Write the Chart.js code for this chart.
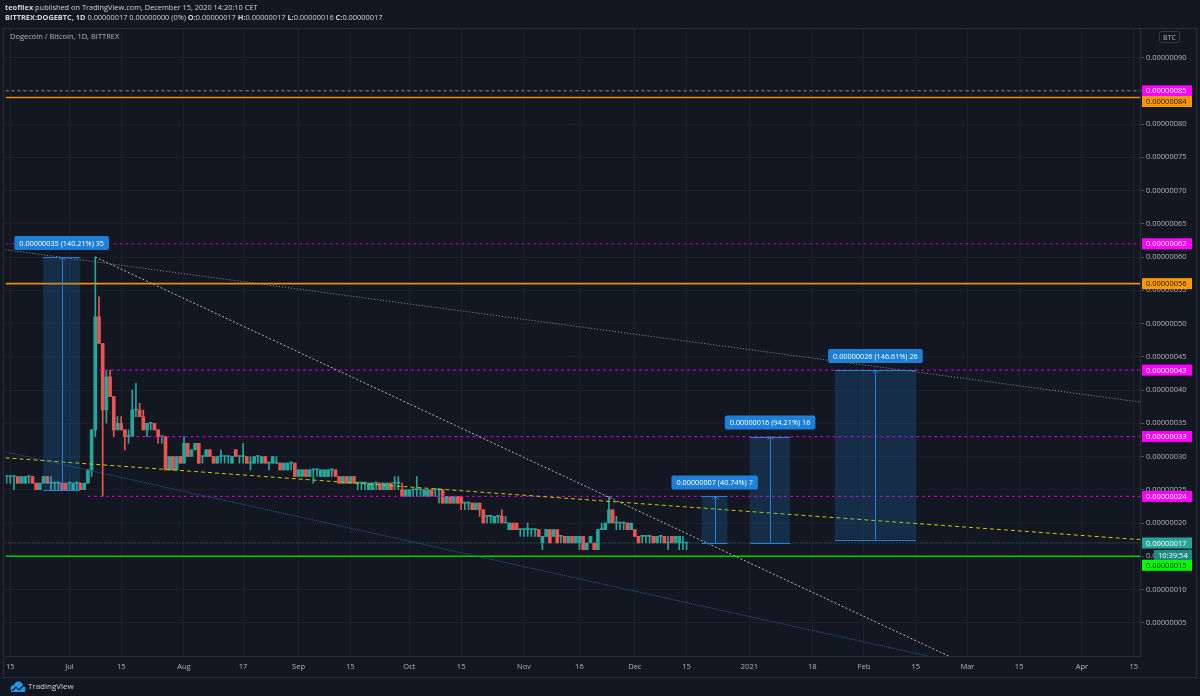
<!DOCTYPE html>
<html>
<head>
<meta charset="utf-8">
<script src="https://cdn.jsdelivr.net/npm/chart.js@4.4.0/dist/chart.umd.min.js"></script>
<style>
  html, body { margin: 0; padding: 0; background: #131722; }
  canvas { display: block; }
</style>
</head>
<body>
<canvas id="chart" width="1200" height="696"></canvas>
<script>
// DOGE/BTC daily candles, Jun 14 2020 -> Dec 15 2020, prices in satoshi (1e-8 BTC)
const firstDay = -17; // days counted from Jul 1 2020
const opens = [
  27,27,27,27,26,26,27,27,26,25, 26,27,26,26,26,26,26,26,25,26,
  26,25,26,28,34,51,47,37,42,39, 34,35,34,33,33,37,37,36,34,35,
  35,34,33,33,28,30,28,30,29,32, 30,31,32,30,30,31,30,29,30,30,
  30,29,31,30,30,30,29,29,30,29, 30,29,29,29,29,28,28,29,29,27,
  27,28,27,28,28,27,27,27,28,28, 27,26,27,26,27,26,26,26,25,25,
  26,26,25,25,26,26,26,25,24,24, 25,25,25,24,24,25,25,25,25,23,
  24,23,24,24,23,23,23,22,23,22, 21,21,20,21,21,20,19,20,20,19,
  19,19,19,19,19,17,18,19,18,19, 18,18,17,18,17,17,18,16,17,17,
  16,19,19,20,22,20,20,20,20,19, 19,18,18,18,18,18,17,18,18,17,
  18,17,17,17,17
];
const highs = [
  27,27,27,27,27,27,27,27,26,26, 27,27,27,26,26,26,26,26,26,26,
  26,26,28,34,60,54,47,43,43,39, 36,36,34,34,40,41,38,37,35,35,
  35,34,33,33,30,30,30,30,33,32, 31,32,32,30,31,31,30,30,31,30,
  30,30,31,30,32,30,30,30,30,30, 30,29,30,30,29,29,29,29,29,28,
  28,28,28,28,28,28,28,28,28,28, 27,27,27,27,27,26,26,26,26,26,
  26,26,26,26,26,27,27,26,25,25, 25,27,25,25,25,25,25,25,25,24,
  24,24,24,24,23,23,23,23,23,22, 21,21,21,21,22,21,20,20,20,19,
  19,20,19,19,19,18,19,19,19,19, 18,18,18,18,18,18,18,17,18,17,
  19,20,20,24,22,21,20,20,20,20, 19,18,18,18,18,18,18,18,18,18,
  18,18,18,18,17
];
const lows = [
  26,26,25,26,26,26,26,26,25,25, 26,26,25,25,25,25,25,25,25,25,
  25,25,26,27,33,47,24,35,39,33, 34,34,31,32,33,36,36,34,33,34,
  34,32,32,28,28,28,28,29,29,30, 30,31,29,29,30,30,29,29,29,29,
  29,29,30,29,29,29,28,29,29,29, 29,28,29,29,28,28,28,28,27,27,
  27,27,27,26,27,27,27,27,27,27, 26,26,26,26,26,25,25,25,25,25,
  25,25,25,25,25,25,25,24,24,24, 24,24,24,24,24,24,24,23,23,23,
  23,23,23,22,22,22,22,22,21,20, 20,20,20,20,20,20,19,19,19,18,
  18,18,18,18,18,16,18,17,18,17, 17,17,17,17,17,16,16,16,17,16,
  16,19,19,20,20,19,19,19,19,19, 18,17,17,17,17,17,17,17,17,16,
  17,17,16,16,16
];
const closes = [
  27,27,27,26,27,27,27,26,25,26, 27,26,26,26,26,25,25,26,26,26,
  25,26,28,34,51,47,37,42,39,34, 35,34,33,33,37,37,36,34,35,35,
  34,33,33,28,30,28,30,29,32,30, 31,32,29,30,31,30,29,30,30,30,
  30,30,30,30,30,29,29,30,30,30, 29,29,30,29,28,29,29,29,27,28,
  28,27,28,28,28,28,28,28,28,27, 26,27,26,27,26,26,26,26,26,26,
  26,25,26,26,25,26,26,24,25,25, 25,25,25,25,25,24,25,25,23,24,
  23,24,23,23,23,23,22,23,22,20, 21,21,21,21,20,20,20,19,19,19,
  19,19,19,19,18,18,19,17,19,17, 18,17,18,17,18,18,16,17,18,16,
  19,19,20,22,20,20,20,20,19,20, 18,17,18,18,18,17,18,18,17,17,
  17,18,18,17,17
];

// time axis: days from Jul 1 2020
const timeTickDays = [-16, 0, 14, 31, 47, 62, 76, 92, 106, 123, 138, 153, 167, 184, 201, 215, 229, 243, 257, 274, 288];
const timeTickLabels = ['15','Jul','15','Aug','17','Sep','15','Oct','15','Nov','16','Dec','15','2021','18','Feb','15','Mar','15','Apr','15'];
const xMin = -17.3, xMax = 289.7;
const yMin = 0, yMax = 94.3;

// horizontal levels (satoshi) and the day they start from
const levelValues = [85, 84, 62, 56, 43, 33, 24, 15, 17];
const levelStart = [xMin, xMin, xMin, xMin, 8, 16.5, 5, xMin, xMin];

// drawn trend lines [day, price] -> [day, price]
const trendFrom = [[-17.3, 61.1], [7, 60], [-17.3, 29.8], [-17.3, 30.7]];
const trendTo = [[289.7, 38.2], [237.9, 0], [289.7, 17.5], [232.3, 0]];

// price range measurements
const boxStart = [-7.1, 171.1, 184.2, 207.1];
const boxEnd = [2.9, 178.1, 195.0, 229.1];
const boxLow = [25, 17, 17, 17.5];
const boxHigh = [60, 24, 33, 43];
const boxText = ['0.00000035 (140.21%) 35', '0.00000007 (40.74%) 7', '0.00000016 (94.21%) 16', '0.00000026 (146.61%) 26'];

// price tags on the right axis
const tagValues = [85, 84, 62, 56, 43, 33, 24, 17, 15];

// ---- styles ----
const FONT = '"Open Sans", sans-serif';
const upColor = '#26a69a', downColor = '#ef5350';
const levelColors = ['#8d8a99', '#f08c00', '#b800bc', '#f08c00', '#b800bc', '#b800bc', '#b800bc', '#00d000', '#4f7378'];
const levelDash = [[3, 3], [], [3, 3], [], [3, 3], [3, 3], [3, 3], [], [1, 2]];
const levelWidth = [1, 1.6, 1.2, 1.6, 1.2, 1.2, 1.2, 1.5, 1];
const trendColors = ['#9598a1', '#b2b5be', '#c8c800', '#2a5f9e'];
const trendDash = [[1, 2], [2, 2], [4, 3], [1, 1]];
const tagBg = ['#ff00ff', '#ff9800', '#ff00ff', '#ff9800', '#ff00ff', '#ff00ff', '#ff00ff', '#26a69a', '#00ff00'];
const tagFg = ['#ffffff', '#131722', '#ffffff', '#131722', '#ffffff', '#ffffff', '#ffffff', '#ffffff', '#131722'];
const tagShift = [0, 4, 0, 0, 0, 0, 0, 0, 9];

const isUp = i => closes[i] >= opens[i];

const datasets = [];
datasets.push({
  label: 'body',
  data: opens.map((o, i) => ({ x: firstDay + i, y: [o, closes[i]] })),
  backgroundColor: c => isUp(c.dataIndex) ? upColor : downColor,
  barThickness: 3,
  minBarLength: 1,
  grouped: false,
  borderWidth: 0
});
datasets.push({
  label: 'wick',
  data: lows.map((l, i) => ({ x: firstDay + i, y: [l, highs[i]] })),
  backgroundColor: c => isUp(c.dataIndex) ? upColor : downColor,
  barThickness: 1,
  minBarLength: 1,
  grouped: false,
  borderWidth: 0
});
levelValues.forEach((v, k) => {
  datasets.push({
    type: 'line',
    data: [{ x: levelStart[k], y: v }, { x: xMax, y: v }],
    borderColor: levelColors[k],
    backgroundColor: levelColors[k],
    borderDash: levelDash[k],
    borderWidth: levelWidth[k],
    pointRadius: 0,
    fill: false,
    order: -1
  });
});
trendFrom.forEach((p, k) => {
  datasets.push({
    type: 'line',
    data: [{ x: p[0], y: p[1] }, { x: trendTo[k][0], y: trendTo[k][1] }],
    borderColor: trendColors[k],
    backgroundColor: trendColors[k],
    borderDash: trendDash[k],
    borderWidth: 1,
    pointRadius: 0,
    fill: false,
    order: -2
  });
});

function roundRect(ctx, x, y, w, h, r) {
  ctx.beginPath();
  ctx.moveTo(x + r, y);
  ctx.arcTo(x + w, y, x + w, y + h, r);
  ctx.arcTo(x + w, y + h, x, y + h, r);
  ctx.arcTo(x, y + h, x, y, r);
  ctx.arcTo(x, y, x + w, y, r);
  ctx.closePath();
}

function richText(ctx, parts, x, y, size) {
  parts.forEach(([t, bold]) => {
    ctx.font = (bold ? 'bold ' : '') + size + 'px ' + FONT;
    ctx.fillText(t, x, y);
    x += ctx.measureText(t).width;
  });
}

const tvPlugin = {
  id: 'tv',
  beforeDraw(chart) {
    const ctx = chart.ctx;
    ctx.save();
    ctx.fillStyle = '#131722';
    ctx.fillRect(0, 0, chart.width, chart.height);
    ctx.restore();
  },
  afterDatasetsDraw(chart) {
    const ctx = chart.ctx, xs = chart.scales.x, ys = chart.scales.y, a = chart.chartArea;
    ctx.save();
    ctx.beginPath();
    ctx.rect(a.left, a.top, a.right - a.left, a.bottom - a.top);
    ctx.clip();
    boxStart.forEach((s, k) => {
      const x0 = xs.getPixelForValue(s), x1 = xs.getPixelForValue(boxEnd[k]);
      const yt = ys.getPixelForValue(boxHigh[k]), yb = ys.getPixelForValue(boxLow[k]);
      const xc = Math.round((x0 + x1) / 2) + 0.5;
      ctx.fillStyle = 'rgba(33,150,243,0.18)';
      ctx.fillRect(x0, yt, x1 - x0, yb - yt);
      ctx.strokeStyle = '#2b7fd6';
      ctx.lineWidth = 1;
      ctx.setLineDash([]);
      ctx.beginPath();
      ctx.moveTo(x0, Math.round(yt) + 0.5); ctx.lineTo(x1, Math.round(yt) + 0.5);
      ctx.moveTo(x0, Math.round(yb) + 0.5); ctx.lineTo(x1, Math.round(yb) + 0.5);
      ctx.moveTo(xc, yb); ctx.lineTo(xc, yt);
      ctx.moveTo(xc - 3, yt + 3); ctx.lineTo(xc, yt); ctx.lineTo(xc + 3, yt + 3);
      ctx.stroke();
      // label
      ctx.font = '7.3px ' + FONT;
      const tw = ctx.measureText(boxText[k]).width;
      const w = tw + 10, h = 14;
      const lx = (x0 + x1) / 2 - w / 2, ly = yt - 7 - h;
      ctx.fillStyle = '#1e7fd8';
      roundRect(ctx, lx, ly, w, h, 2);
      ctx.fill();
      ctx.fillStyle = '#ffffff';
      ctx.textBaseline = 'middle';
      ctx.textAlign = 'left';
      ctx.fillText(boxText[k], lx + 5, ly + h / 2 + 0.5);
    });
    ctx.restore();
  },
  afterDraw(chart) {
    const ctx = chart.ctx, ys = chart.scales.y;
    ctx.save();
    // pane frame
    ctx.strokeStyle = '#2a2e39';
    ctx.lineWidth = 1;
    ctx.strokeRect(3.5, 28.5, 1193, 649);
    // price tags
    ctx.textBaseline = 'middle';
    ctx.textAlign = 'left';
    ctx.font = '7.5px ' + FONT;
    tagValues.forEach((v, k) => {
      const y = ys.getPixelForValue(v) + tagShift[k];
      ctx.fillStyle = tagBg[k];
      ctx.fillRect(1142, y - 5.5, 50, 11);
      ctx.fillStyle = tagFg[k];
      ctx.fillText((v / 1e8).toFixed(8), 1146, y + 0.5);
    });
    // countdown under last price
    const yc = ys.getPixelForValue(closes[closes.length - 1]) + 12;
    ctx.fillStyle = '#1f8a80';
    ctx.fillRect(1154, yc - 5, 38, 10);
    ctx.fillStyle = '#ffffff';
    ctx.fillText('10:39:54', 1158, yc + 0.5);
    // BTC unit box
    ctx.strokeStyle = '#363a45';
    roundRect(ctx, 1159.5, 31.5, 20, 11, 2);
    ctx.stroke();
    ctx.fillStyle = '#b2b5be';
    ctx.textAlign = 'center';
    ctx.font = '7px ' + FONT;
    ctx.fillText('BTC', 1169.5, 37.5);
    // header
    ctx.textAlign = 'left';
    ctx.fillStyle = '#d1d4dc';
    richText(ctx, [['teofilex', true], [' published on TradingView.com, December 15, 2020 14:20:10 CET', false]], 5, 7.5, 7.4);
    richText(ctx, [['BITTREX:DOGEBTC, 1D', true], [' 0.00000017 0.00000000 (0%) ', false], ['O:', true], ['0.00000017 ', false],
      ['H:', true], ['0.00000017 ', false], ['L:', true], ['0.00000016 ', false], ['C:', true], ['0.00000017', false]], 5, 18, 7.4);
    ctx.fillStyle = '#b2b5be';
    ctx.font = '7.5px ' + FONT;
    ctx.fillText('Dogecoin / Bitcoin, 1D, BITTREX', 10, 37);
    // footer logo
    ctx.fillStyle = '#2196f3';
    ctx.beginPath();
    ctx.arc(14, 688.5, 3.5, 0, Math.PI * 2);
    ctx.arc(18.5, 686, 4.5, 0, Math.PI * 2);
    ctx.arc(22.5, 689, 3, 0, Math.PI * 2);
    ctx.fill();
    ctx.fillRect(11, 688, 14, 4);
    ctx.strokeStyle = '#131722';
    ctx.lineWidth = 1.2;
    ctx.beginPath();
    ctx.moveTo(12, 691); ctx.lineTo(16, 687); ctx.lineTo(19, 690); ctx.lineTo(23, 686);
    ctx.stroke();
    ctx.fillStyle = '#d1d4dc';
    ctx.font = '8px ' + FONT;
    ctx.fillText('TradingView', 28, 687);
    ctx.restore();
  }
};

new Chart(document.getElementById('chart'), {
  type: 'bar',
  data: { datasets },
  options: {
    responsive: false,
    animation: false,
    layout: { padding: { left: 3, top: 29, right: 3, bottom: 19 } },
    plugins: { legend: { display: false }, tooltip: { enabled: false } },
    scales: {
      x: {
        type: 'linear', min: xMin, max: xMax, offset: false,
        afterBuildTicks: s => { s.ticks = timeTickDays.map(v => ({ value: v })); },
        afterFit: s => { s.height = 21; },
        grid: { color: '#1c202b', offset: false, drawTicks: false },
        border: { color: '#2a2e39' },
        ticks: {
          autoSkip: false, maxRotation: 0, minRotation: 0, padding: 6,
          color: '#b2b5be', font: { family: FONT, size: 7.5 },
          callback: v => timeTickLabels[timeTickDays.indexOf(v)]
        }
      },
      y: {
        position: 'right', min: yMin, max: yMax,
        afterBuildTicks: s => { s.ticks = s.ticks.filter(t => t.value > 0 && t.value % 5 === 0); },
        afterFit: s => { s.width = 57; },
        grid: { color: '#1c202b', tickColor: '#4a4e59', tickLength: 4 },
        border: { color: '#2a2e39' },
        ticks: {
          stepSize: 5, padding: 2, color: '#b2b5be', font: { family: FONT, size: 7.5 },
          callback: v => (v / 1e8).toFixed(8)
        }
      }
    }
  },
  plugins: [tvPlugin]
});
</script>
</body>
</html>
